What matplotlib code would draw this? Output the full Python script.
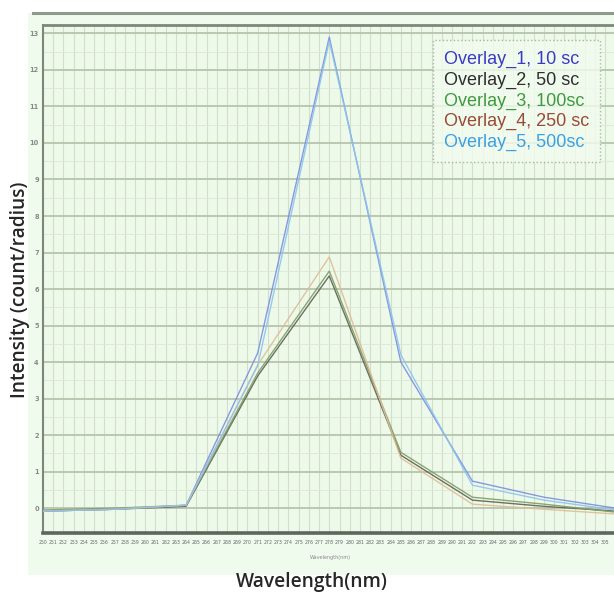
import matplotlib
matplotlib.use("Agg")
import matplotlib.pyplot as plt
from matplotlib.lines import Line2D
import numpy as np

# ---- data ----
wavelengths = [250, 257, 264, 271, 278, 285, 292, 299, 306]
overlay_1 = [-0.08, -0.03, 0.08, 4.25, 12.90, 4.00, 0.74, 0.30, 0.00]
overlay_2 = [-0.08, -0.03, 0.05, 3.62, 6.36, 1.45, 0.22, 0.05, -0.08]
overlay_3 = [-0.05, 0.00, 0.08, 3.70, 6.49, 1.53, 0.30, 0.11, -0.11]
overlay_4 = [-0.08, -0.03, 0.08, 3.92, 6.88, 1.37, 0.11, -0.03, -0.16]
overlay_5 = [-0.08, -0.03, 0.08, 3.90, 12.79, 4.20, 0.63, 0.22, -0.05]
series_labels = ["Overlay_1, 10 sc", "Overlay_2, 50 sc", "Overlay_3, 100sc",
                 "Overlay_4, 250 sc", "Overlay_5, 500sc"]
y_ticks = [0, 1, 2, 3, 4, 5, 6, 7, 8, 9, 10, 11, 12, 13]
x_ticks = list(range(250, 306))

series = [overlay_1, overlay_2, overlay_3, overlay_4, overlay_5]
line_colors = ["#7d8ee0", "#5d6152", "#7f9c66", "#e0bc94", "#8cc4ee"]
text_colors = ["#3a3ac4", "#2e2e2e", "#3f9a3f", "#9a4a38", "#3aa0e4"]

W, H = 614, 592
fig = plt.figure(figsize=(W / 100, H / 100), dpi=100, facecolor="white")

# light green panel background and top rule
bg = fig.add_axes([28 / W, 1 - 575 / H, 1 - 28 / W, (575 - 13) / H], zorder=-5)
bg.set_facecolor("#effbec")
bg.set_xticks([])
bg.set_yticks([])
for s in bg.spines.values():
    s.set_visible(False)
fig.add_artist(Line2D([33 / W, 1], [1 - 13 / H, 1 - 13 / H], transform=fig.transFigure,
                      color="#8e9a8c", lw=2.2))

left, right, top, bottom = 43, 636, 25, 533
ax = fig.add_axes([left / W, 1 - bottom / H, (right - left) / W, (bottom - top) / H], zorder=1)
ax.set_facecolor("#edfae9")

for vals, c in zip(series, line_colors):
    ax.plot(wavelengths, vals, color=c, lw=1.0, alpha=0.9, zorder=3)

ax.set_xlim(250, 308)
ax.set_ylim(-0.68, 13.23)
ax.set_yticks(y_ticks)
ax.set_yticklabels([str(v) for v in y_ticks], fontsize=4.8, color="#8a8a8a",
                   fontweight="bold")
ax.set_xticks(x_ticks)
ax.set_xticklabels([str(v) for v in x_ticks], fontsize=3.3, color="#666666")
ax.set_yticks(np.array(y_ticks[:-1]) + 0.5, minor=True)
ax.tick_params(axis="both", which="both", length=0)
ax.tick_params(axis="y", pad=3)
ax.tick_params(axis="x", pad=5)

ax.grid(True, axis="y", which="major", color="#b6c4ae", lw=1.3, zorder=1)
ax.grid(True, axis="y", which="minor", color="#dce7d5", lw=0.6, zorder=1)
ax.grid(True, axis="x", which="major", color="#d2ddca", lw=0.8, zorder=1)
ax.set_axisbelow(True)

ax.spines["top"].set_color("#7d877a")
ax.spines["top"].set_linewidth(2.0)
ax.spines["left"].set_color("#7d877a")
ax.spines["left"].set_linewidth(1.5)
ax.spines["bottom"].set_color("#5f665d")
ax.spines["bottom"].set_linewidth(2.6)
ax.spines["right"].set_visible(False)

# small inner axis caption
fig.text(330 / W, 1 - 557 / H, "Wavelength(nm)", fontsize=3.5, color="#8a8a8a",
         ha="center", va="center")

lab_font = dict(family=["Open Sans", "DejaVu Sans"], fontsize=13.8, fontweight="semibold",
                color="#262626")
fig.text(312 / W, 1 - 582 / H, "Wavelength(nm)", ha="center", va="center", **lab_font)
fig.text(20 / W, 1 - 290 / H, "Intensity (count/radius)", ha="center", va="center",
         rotation=90, **lab_font)

# legend: text only
handles = [Line2D([], [], color=c) for c in line_colors]
leg = ax.legend(handles, series_labels, loc="upper left",
                bbox_to_anchor=((433 - left) / (right - left), 1 - (40 - top) / (bottom - top)),
                handlelength=0, handletextpad=0, borderaxespad=0, borderpad=0.6,
                labelspacing=0.2, frameon=True, fancybox=False,
                prop={"family": ["Liberation Sans", "DejaVu Sans"], "size": 13})
fr = leg.get_frame()
fr.set_facecolor("#f2fcef")
fr.set_edgecolor("#9aa59a")
fr.set_linestyle(":")
fr.set_linewidth(1.0)
for t, c in zip(leg.get_texts(), text_colors):
    t.set_color(c)

fig.savefig("out.png", dpi=100, facecolor="white")
